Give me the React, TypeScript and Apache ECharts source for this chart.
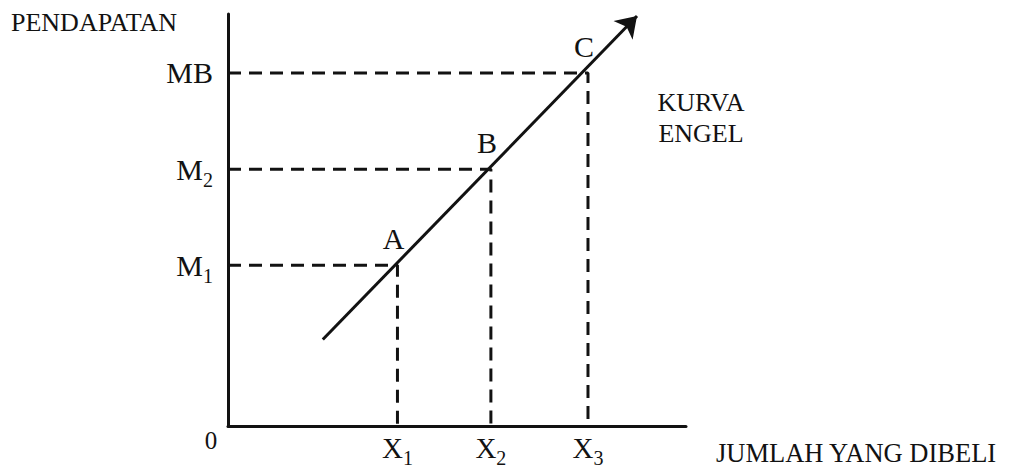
import React, { useEffect, useRef } from "react";
import * as echarts from "echarts";

// Engel curve: points A, B, C
const pointNames = ["A", "B", "C"];
const xValues = [37, 57.4, 78.6];
const yValues = [39, 62.3, 85.7];
// tick labels (main, subscript)
const xTickMain = ["X", "X", "X"];
const xTickSub = ["1", "2", "3"];
const yTickMain = ["M", "M", "MB"];
const yTickSub = ["1", "2", ""];
// curve end points
const curveStart = [20.7, 21];
const curveEnd = [89.3, 99.5];

const FONT = '"Liberation Serif", "Times New Roman", serif';
const INK = "#121212";

export default function App() {
  const ref = useRef<HTMLDivElement>(null);
  useEffect(() => {
    if (!ref.current) return;
    const chart = echarts.init(ref.current, null, { renderer: "svg" });
    const richX = {
      m: { fontSize: 29, fontFamily: FONT, color: INK },
      s: { fontSize: 20, fontFamily: FONT, color: INK, verticalAlign: "bottom", padding: [0, 0, -6, 0] },
    };
    const richY = {
      m: { fontSize: 30, fontFamily: FONT, color: INK },
      s: { fontSize: 20, fontFamily: FONT, color: INK, verticalAlign: "bottom", padding: [0, 0, -6, 0] },
    };
    const findIdx = (arr: number[], v: number) => {
      let best = 0;
      arr.forEach((a, i) => {
        if (Math.abs(a - v) < Math.abs(arr[best] - v)) best = i;
      });
      return best;
    };
    const guides = xValues.map((x, i) => ({
      type: "line",
      data: [
        [0, yValues[i]],
        [x, yValues[i]],
        [x, 0],
      ],
      symbol: "none",
      silent: true,
      lineStyle: { color: INK, width: 3, type: [13, 8] },
      z: 1,
    }));
    chart.setOption({
      animation: false,
      backgroundColor: "#ffffff",
      grid: { left: 228, right: 330, top: 14, bottom: 40 },
      xAxis: {
        type: "value",
        min: 0,
        max: 100,
        axisLine: { show: true, lineStyle: { color: INK, width: 3 } },
        axisTick: { show: false },
        splitLine: { show: false },
        axisLabel: {
          customValues: xValues,
          margin: 7,
          formatter: (v: number) => {
            const i = findIdx(xValues, v);
            return `{m|${xTickMain[i]}}{s|${xTickSub[i]}}`;
          },
          rich: richX,
        },
      },
      yAxis: {
        type: "value",
        min: 0,
        max: 100,
        axisLine: { show: true, lineStyle: { color: INK, width: 3 } },
        axisTick: { show: false },
        splitLine: { show: false },
        axisLabel: {
          customValues: yValues,
          margin: 15,
          formatter: (v: number) => {
            const i = findIdx(yValues, v);
            return yTickSub[i] ? `{m|${yTickMain[i]}}{s|${yTickSub[i]}}` : `{m|${yTickMain[i]}}`;
          },
          rich: richY,
        },
      },
      series: [
        ...guides,
        {
          type: "lines",
          coordinateSystem: "cartesian2d",
          polyline: false,
          symbol: ["none", "arrow"],
          symbolSize: [14, 20],
          lineStyle: { color: INK, width: 3, opacity: 1, curveness: 0 },
          data: [{ coords: [curveStart, curveEnd] }],
          z: 3,
        },
        {
          type: "scatter",
          data: xValues.map((x, i) => ({ value: [x, yValues[i]], name: pointNames[i] })),
          symbolSize: 1,
          itemStyle: { color: INK, opacity: 1 },
          label: {
            show: true,
            position: "top",
            distance: 11,
            offset: [-4, 0],
            formatter: (p: any) => p.name,
            fontSize: 30,
            fontFamily: FONT,
            color: INK,
          },
          z: 4,
        },
      ],
      graphic: [
        {
          type: "text",
          left: 11,
          top: 9,
          style: { text: "PENDAPATAN", fontSize: 26, fontFamily: FONT, fill: INK },
        },
        {
          type: "text",
          x: 701,
          y: 87,
          style: {
            text: "KURVA\nENGEL",
            fontSize: 26,
            lineHeight: 31,
            fontFamily: FONT,
            fill: INK,
            textAlign: "center",
            textVerticalAlign: "top",
          },
        },
        {
          type: "text",
          x: 716,
          y: 453,
          style: {
            text: "JUMLAH YANG DIBELI",
            fontSize: 26.5,
            lineHeight: 24,
            fontFamily: FONT,
            fill: INK,
            textAlign: "left",
            textVerticalAlign: "middle",
          },
        },
        {
          type: "text",
          x: 211,
          y: 440,
          style: {
            text: "0",
            fontSize: 25,
            fontFamily: FONT,
            fill: INK,
            textAlign: "center",
            textVerticalAlign: "middle",
          },
        },
      ],
    });
    return () => chart.dispose();
  }, []);
  return (
    <div
      ref={ref}
      style={{ position: "fixed", left: 0, top: 0, width: 1016, height: 468, background: "#fff" }}
    />
  );
}
